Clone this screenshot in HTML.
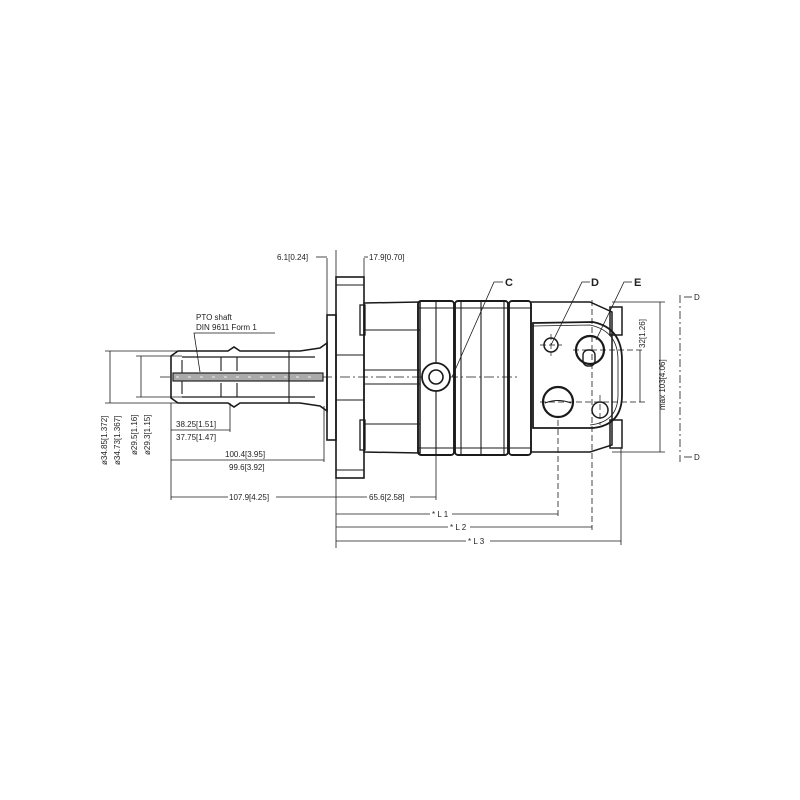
<!DOCTYPE html>
<html><head><meta charset="utf-8"><style>
html,body{margin:0;padding:0;background:#fff;width:800px;height:800px;overflow:hidden}
svg text{font-family:"Liberation Sans",sans-serif;fill:#222}
</style></head><body>
<svg width="800" height="800" viewBox="0 0 800 800" xmlns="http://www.w3.org/2000/svg">
<g fill="none" stroke="#1a1a1a" stroke-width="1.1">
<line x1="160" y1="377" x2="520" y2="377" stroke-dasharray="10,3,2,3" stroke-width="0.8"/>
<path d="M171,356 L178,351 L228,351 L234,347 L240,351 L300,351 L320,348 L327,343 L327,411 L320,406 L300,403 L240,403 L234,407 L228,403 L178,403 L171,398 Z" stroke-width="1.6"/>
<line x1="182" y1="357" x2="315" y2="357" stroke-width="1.3"/><line x1="182" y1="397" x2="315" y2="397" stroke-width="1.3"/>
<line x1="182" y1="360" x2="182" y2="394"/>
<line x1="221" y1="357" x2="221" y2="371"/><line x1="237" y1="357" x2="237" y2="371"/>
<line x1="221" y1="383" x2="221" y2="397"/><line x1="237" y1="383" x2="237" y2="397"/>
<rect x="173" y="373" width="150" height="8" fill="#aaa" stroke="#222" stroke-width="1.2"/>
<line x1="176" y1="377" x2="320" y2="377" stroke="#eee" stroke-dasharray="3,9"/>
<line x1="289" y1="351" x2="289" y2="403"/>
<rect x="327" y="315" width="9" height="125" stroke-width="1.6"/>
<rect x="336" y="277" width="28" height="201" stroke-width="1.6"/>
<line x1="336" y1="285" x2="364" y2="285"/><line x1="336" y1="470" x2="364" y2="470"/>
<line x1="336" y1="355" x2="364" y2="355"/><line x1="336" y1="400" x2="364" y2="400"/>
<path d="M364,303 L420,302 L420,453 L364,452 Z" stroke-width="1.5"/>
<rect x="360" y="305" width="5" height="30" stroke-width="1.3"/><rect x="360" y="420" width="5" height="30" stroke-width="1.3"/>
<line x1="364" y1="330" x2="420" y2="330"/><line x1="364" y1="424" x2="420" y2="424"/>
<line x1="364" y1="370" x2="420" y2="370"/><line x1="364" y1="384" x2="420" y2="384"/>
<rect x="418" y="301" width="36" height="154" rx="3" stroke-width="1.9"/>
<rect x="455" y="301" width="53" height="154" rx="3" stroke-width="1.9"/>
<rect x="509" y="301" width="22" height="154" rx="3" stroke-width="1.9"/>
<line x1="418" y1="308" x2="531" y2="308"/><line x1="418" y1="448" x2="531" y2="448"/>
<line x1="436" y1="301" x2="436" y2="455"/><line x1="481" y1="301" x2="481" y2="455"/>
<line x1="461" y1="301" x2="461" y2="455"/><line x1="504" y1="301" x2="504" y2="455"/>
<path d="M531,302 L590,302 L612,312 L612,445 L590,452 L531,452" stroke-width="1.5"/>
<path d="M533,323 L593,322 Q622,328 622,360 L622,395 Q622,425 593,428 L533,428 Z" stroke-width="1.8"/>
<path d="M533,326 L590,325 Q618,331 618,360 L618,395 Q618,422 590,425" stroke-width="0.8"/>
<rect x="610" y="307" width="12" height="28" stroke-width="1.5"/>
<rect x="610" y="420" width="12" height="28" stroke-width="1.5"/>
<circle cx="436" cy="377" r="14" stroke-width="1.8" fill="#fff"/><circle cx="436" cy="377" r="7" stroke-width="1.6"/>
<circle cx="551" cy="345" r="7" stroke-width="1.5"/>
<circle cx="590" cy="350" r="14" stroke-width="2.2"/><rect x="583" y="350" width="12" height="16" rx="5" stroke-width="1.4"/>
<circle cx="558" cy="402" r="15" stroke-width="2.2"/><path d="M545,403 Q558,398 571,403"/>
<circle cx="600" cy="410" r="8" stroke-width="1.5"/>
<g stroke-dasharray="6,3" stroke-width="0.7">
<line x1="540" y1="345" x2="562" y2="345"/><line x1="551" y1="334" x2="551" y2="356"/>
<line x1="573" y1="350" x2="645" y2="350"/><line x1="540" y1="402" x2="645" y2="402"/>
<line x1="600" y1="395" x2="600" y2="425"/>
</g>
<g stroke-width="0.8">
<line x1="336" y1="250" x2="336" y2="548"/><line x1="327" y1="258" x2="327" y2="315"/><line x1="364" y1="258" x2="364" y2="277"/>
<line x1="436" y1="455" x2="436" y2="500"/>
<line x1="558" y1="420" x2="558" y2="517" stroke-dasharray="6,3"/>
<line x1="592" y1="300" x2="592" y2="530" stroke-dasharray="6,3"/>
<line x1="621" y1="448" x2="621" y2="545"/>
<line x1="171" y1="403" x2="171" y2="500"/><line x1="230" y1="403" x2="230" y2="432"/>
<line x1="324" y1="406" x2="324" y2="462"/>
<line x1="105" y1="351" x2="178" y2="351"/><line x1="105" y1="403" x2="178" y2="403"/>
<line x1="136" y1="356" x2="182" y2="356"/><line x1="136" y1="397" x2="182" y2="397"/>
<line x1="612" y1="302" x2="665" y2="302"/><line x1="612" y1="452" x2="665" y2="452"/>
<line x1="316" y1="257" x2="327" y2="257"/><line x1="364" y1="257" x2="368" y2="257"/>
<line x1="171" y1="430" x2="230" y2="430"/><line x1="171" y1="460" x2="324" y2="460"/>
<line x1="171" y1="497" x2="228" y2="497"/><line x1="276" y1="497" x2="336" y2="497"/>
<line x1="336" y1="497" x2="367" y2="497"/><line x1="410" y1="497" x2="436" y2="497"/>
<line x1="336" y1="514" x2="430" y2="514"/><line x1="452" y1="514" x2="558" y2="514"/>
<line x1="336" y1="527" x2="448" y2="527"/><line x1="470" y1="527" x2="592" y2="527"/>
<line x1="336" y1="541" x2="466" y2="541"/><line x1="490" y1="541" x2="621" y2="541"/>
<line x1="110" y1="351" x2="110" y2="403"/><line x1="141" y1="356" x2="141" y2="397"/>
<line x1="660" y1="302" x2="660" y2="452"/><line x1="640" y1="350" x2="640" y2="402"/>
<line x1="680" y1="295" x2="680" y2="462" stroke-dasharray="8,3,2,3"/>
<line x1="684" y1="297" x2="692" y2="297"/><line x1="684" y1="457" x2="692" y2="457"/>
<polyline points="275,333 194,333 200,372"/>
<polyline points="503,282 494,282 452,377"/><polyline points="590,282 582,282 551,345"/><polyline points="632,282 624,282 596,340"/>
</g>
</g>
<g font-size="8">
<text x="277" y="260">6.1[0.24]</text><text x="369" y="260">17.9[0.70]</text>
<text x="196" y="320">PTO  shaft</text><text x="196" y="330">DIN  9611  Form  1</text>
<text x="176" y="427">38.25[1.51]</text><text x="176" y="440">37.75[1.47]</text>
<text x="225" y="457">100.4[3.95]</text><text x="229" y="470">99.6[3.92]</text>
<text x="229" y="500">107.9[4.25]</text><text x="369" y="500">65.6[2.58]</text>
<text x="432" y="517">* L 1</text><text x="450" y="530">* L 2</text><text x="468" y="544">* L 3</text>
<text x="694" y="300">D</text><text x="694" y="460">D</text>
<text transform="translate(107,465) rotate(-90)">ø34.85[1.372]</text>
<text transform="translate(120,465) rotate(-90)">ø34.73[1.367]</text>
<text transform="translate(137,455) rotate(-90)">ø29.5[1.16]</text>
<text transform="translate(150,455) rotate(-90)">ø29.3[1.15]</text>
<text transform="translate(645,348) rotate(-90)">32[1.26]</text>
<text transform="translate(665,410) rotate(-90)">max  103[4.06]</text>
</g>
<g font-size="11" font-weight="bold"><text x="505" y="286">C</text><text x="591" y="286">D</text><text x="634" y="286">E</text></g>
</svg>
</body></html>
